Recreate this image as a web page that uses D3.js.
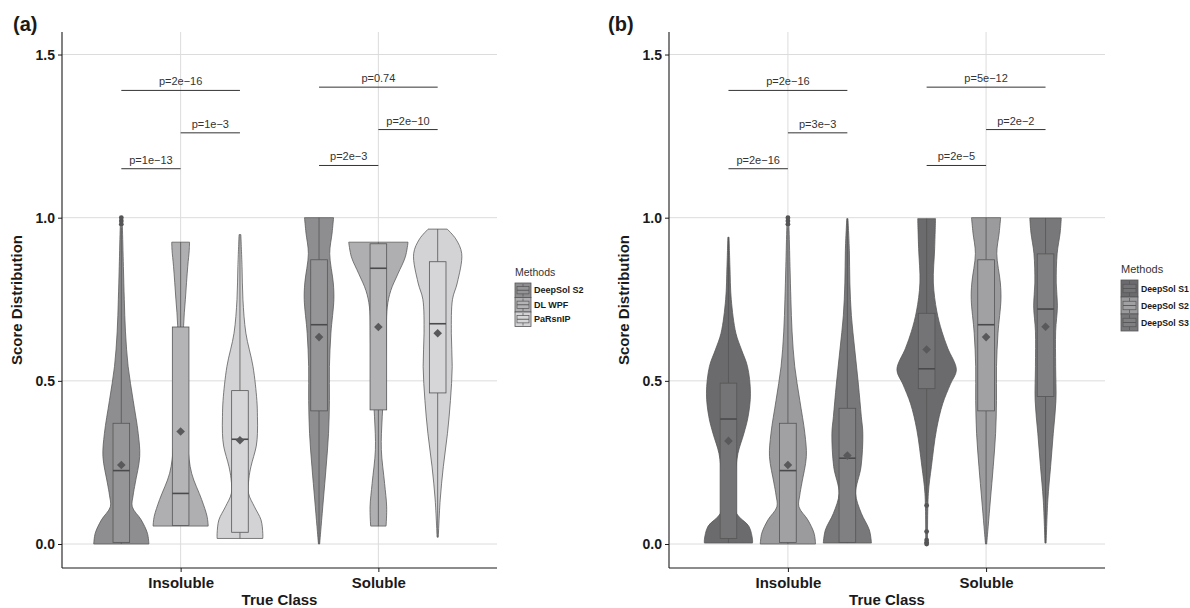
<!DOCTYPE html>
<html>
<head>
<meta charset="utf-8">
<script src="https://cdn.jsdelivr.net/npm/d3@7"></script>
<style>
  body { margin: 0; background: #fff; }
  svg { display: block; font-family: "Liberation Sans", Arial, sans-serif; }
</style>
</head>
<body>
<svg id="chart" width="1190" height="608"></svg>
<script>
// ---------- values ----------
const classes = ["Insoluble", "Soluble"];
const methodsA = ["DeepSol S2", "DL WPF", "PaRsnIP"];
const methodsB = ["DeepSol S1", "DeepSol S2", "DeepSol S3"];
const colorsA = ["#8e8e90", "#afafb1", "#d3d3d5"];
const colorsB = ["#6b6b6d", "#9b9b9d", "#78787a"];
const yTicks = [0, 0.5, 1.0, 1.5];

// violin outlines: [score, relative density]
const s2Ins  = [[0,0.93],[0.033,0.88],[0.074,0.67],[0.114,0.37],[0.15,0.40],[0.187,0.47],[0.268,0.62],[0.339,0.57],[0.44,0.40],[0.544,0.23],[0.65,0.14],[0.75,0.10],[0.85,0.07],[0.973,0.035],[1.0,0.02]];
const wpfIns = [[0.055,0.93],[0.085,0.89],[0.136,0.71],[0.217,0.37],[0.3,0.24],[0.4,0.17],[0.5,0.14],[0.6,0.12],[0.669,0.10],[0.75,0.16],[0.851,0.24],[0.9,0.29],[0.925,0.30]];
const parIns = [[0.017,0.77],[0.033,0.77],[0.074,0.71],[0.114,0.49],[0.155,0.29],[0.2,0.30],[0.237,0.37],[0.3,0.55],[0.339,0.59],[0.39,0.59],[0.44,0.57],[0.544,0.44],[0.646,0.20],[0.75,0.10],[0.85,0.07],[0.948,0.03]];
const s2Sol  = [[0,0.02],[0.054,0.07],[0.135,0.145],[0.237,0.24],[0.339,0.32],[0.44,0.35],[0.544,0.35],[0.646,0.40],[0.75,0.50],[0.8,0.48],[0.89,0.36],[0.953,0.44],[1.0,0.49]];
const wpfSol = [[0.055,0.26],[0.114,0.28],[0.186,0.21],[0.289,0.10],[0.39,0.13],[0.5,0.20],[0.6,0.26],[0.726,0.30],[0.777,0.42],[0.828,0.66],[0.88,0.91],[0.925,1.0]];
const parSol = [[0.021,0.02],[0.135,0.084],[0.237,0.19],[0.339,0.33],[0.44,0.43],[0.544,0.49],[0.646,0.46],[0.75,0.50],[0.8,0.66],[0.89,0.81],[0.935,0.61],[0.965,0.32]];
const s1Ins  = [[0.003,0.81],[0.013,0.81],[0.054,0.69],[0.094,0.27],[0.15,0.20],[0.2,0.22],[0.278,0.32],[0.339,0.52],[0.39,0.66],[0.462,0.74],[0.544,0.64],[0.595,0.44],[0.646,0.25],[0.75,0.094],[0.85,0.05],[0.94,0.02]];
const s3Ins  = [[0.003,0.81],[0.043,0.74],[0.094,0.47],[0.155,0.28],[0.237,0.46],[0.339,0.52],[0.39,0.47],[0.49,0.37],[0.595,0.25],[0.7,0.135],[0.8,0.084],[0.9,0.067],[0.997,0.02]];
const s1Sol  = [[0,0.03],[0.155,0.057],[0.237,0.16],[0.35,0.33],[0.43,0.54],[0.49,0.80],[0.534,1.0],[0.6,0.71],[0.652,0.51],[0.714,0.34],[0.8,0.226],[0.906,0.27],[0.997,0.30]];
const s3Sol  = [[0.003,0.02],[0.135,0.077],[0.237,0.17],[0.339,0.26],[0.44,0.35],[0.544,0.34],[0.652,0.34],[0.73,0.40],[0.8,0.36],[0.89,0.39],[0.953,0.49],[0.999,0.53]];

// box stats: [lower whisker, q1, median, q3, upper whisker, mean]
const s2InsBox  = [0.0, 0.005, 0.225, 0.370, 0.97, 0.242];
const wpfInsBox = [0.057, 0.057, 0.155, 0.665, 0.925, 0.345];
const parInsBox = [0.017, 0.036, 0.321, 0.470, 0.948, 0.318];
const s2SolBox  = [0.0, 0.408, 0.672, 0.871, 1.0, 0.634];
const wpfSolBox = [0.055, 0.411, 0.845, 0.920, 0.925, 0.665];
const parSolBox = [0.021, 0.463, 0.675, 0.865, 0.965, 0.646];
const s1InsBox  = [0.003, 0.017, 0.383, 0.493, 0.94, 0.316];
const s3InsBox  = [0.003, 0.005, 0.263, 0.416, 0.997, 0.271];
const s1SolBox  = [0.13, 0.476, 0.537, 0.707, 0.997, 0.596];
const s3SolBox  = [0.003, 0.452, 0.720, 0.889, 0.999, 0.666];

// outliers
const s2InsOut = [0.98, 0.99, 1.0];
const s1SolOut = [0.118, 0.038, 0.012, 0.005, 0.0];

// pairwise comparisons (method index pairs), bracket heights and labels
const pPairs = [[0, 1], [1, 2], [0, 2]];
const pHeightsIns = [1.15, 1.26, 1.39];
const pHeightsSol = [1.16, 1.27, 1.40];
const pTextA = { Insoluble: ["p=1e\u221213", "p=1e\u22123", "p=2e\u221216"], Soluble: ["p=2e\u22123", "p=2e\u221210", "p=0.74"] };
const pTextB = { Insoluble: ["p=2e\u221216", "p=3e\u22123", "p=2e\u221216"], Soluble: ["p=2e\u22125", "p=2e\u22122", "p=5e\u221212"] };

// ---------- per-panel tables ----------
const panelA = {
  label: "(a)", labelX: 13, left: 62, right: 497, methods: methodsA, colors: colorsA,
  violins: { Insoluble: [s2Ins, wpfIns, parIns], Soluble: [s2Sol, wpfSol, parSol] },
  boxes: { Insoluble: [s2InsBox, wpfInsBox, parInsBox], Soluble: [s2SolBox, wpfSolBox, parSolBox] },
  outliers: { Insoluble: [s2InsOut, [], []], Soluble: [[], [], []] },
  pText: pTextA,
  legend: { x: 515, y: 283, w: 16, h: 14.5, title: 10.5, font: 9 }
};
const panelB = {
  label: "(b)", labelX: 608, left: 669, right: 1105, methods: methodsB, colors: colorsB,
  violins: { Insoluble: [s1Ins, s2Ins, s3Ins], Soluble: [s1Sol, s2Sol, s3Sol] },
  boxes: { Insoluble: [s1InsBox, s2InsBox, s3InsBox], Soluble: [s1SolBox, s2SolBox, s3SolBox] },
  outliers: { Insoluble: [[], s2InsOut, []], Soluble: [s1SolOut, [], []] },
  pText: pTextB,
  legend: { x: 1121, y: 280, w: 17, h: 17, title: 11, font: 8.7 }
};

const svg = d3.select("#chart");
const plotTop = 32, plotBottom = 568;
const y = d3.scaleLinear().domain([-0.0735, 1.569]).range([plotBottom, plotTop]);
const ink = "#1a1a1a", outline = "#555557";

function drawPanel(p) {
  const g = svg.append("g");
  const x = d3.scalePoint().domain(classes).range([p.left, p.right]).padding(0.6);
  const dodge = d3.scaleBand().domain(p.methods).range([-0.45 * x.step(), 0.45 * x.step()]);
  const bw = dodge.bandwidth();
  const wScale = d3.scaleLinear().domain([0, 1]).range([0, bw / 2]);
  const boxHalf = bw * 0.14;
  const color = d3.scaleOrdinal().domain(p.methods).range(p.colors);

  // grid
  g.append("g").selectAll("line").data(yTicks).join("line")
    .attr("x1", p.left).attr("x2", p.right)
    .attr("y1", d => y(d)).attr("y2", d => y(d))
    .attr("stroke", "#dcdcdc").attr("stroke-width", 1);
  g.append("g").selectAll("line").data(classes).join("line")
    .attr("x1", d => x(d)).attr("x2", d => x(d))
    .attr("y1", plotTop).attr("y2", plotBottom)
    .attr("stroke", "#dcdcdc").attr("stroke-width", 1);

  classes.forEach(cls => {
    p.methods.forEach((m, i) => {
      const cx = x(cls) + dodge(m) + bw / 2;
      const c = color(m);
      const area = d3.area()
        .curve(d3.curveCatmullRom.alpha(0.5))
        .y(d => y(d[0]))
        .x0(d => cx - wScale(d[1]))
        .x1(d => cx + wScale(d[1]));
      g.append("path").datum(p.violins[cls][i])
        .attr("d", area)
        .attr("fill", c).attr("stroke", outline).attr("stroke-width", 0.75);

      const [lw, q1, med, q3, uw, mean] = p.boxes[cls][i];
      const boxFill = d3.interpolateRgb(c, "#ffffff")(0.06);
      g.append("line").attr("x1", cx).attr("x2", cx).attr("y1", y(q3)).attr("y2", y(uw))
        .attr("stroke", outline).attr("stroke-width", 0.8);
      g.append("line").attr("x1", cx).attr("x2", cx).attr("y1", y(q1)).attr("y2", y(lw))
        .attr("stroke", outline).attr("stroke-width", 0.8);
      g.append("rect")
        .attr("x", cx - boxHalf).attr("width", boxHalf * 2)
        .attr("y", y(q3)).attr("height", y(q1) - y(q3))
        .attr("fill", boxFill).attr("stroke", outline).attr("stroke-width", 0.8);
      g.append("line").attr("x1", cx - boxHalf).attr("x2", cx + boxHalf)
        .attr("y1", y(med)).attr("y2", y(med))
        .attr("stroke", "#4a4a4c").attr("stroke-width", 1.6);

      g.append("g").selectAll("circle").data(p.outliers[cls][i]).join("circle")
        .attr("cx", cx).attr("cy", d => y(d)).attr("r", 2.4)
        .attr("fill", "#555557");

      const dm = 4.3;
      g.append("path")
        .attr("d", `M${cx},${y(mean) - dm}L${cx + dm},${y(mean)}L${cx},${y(mean) + dm}L${cx - dm},${y(mean)}Z`)
        .attr("fill", "#59595b");
    });

    // significance brackets
    const heights = cls === "Insoluble" ? pHeightsIns : pHeightsSol;
    pPairs.forEach(([a, b], k) => {
      const xa = x(cls) + dodge(p.methods[a]) + bw / 2;
      const xb = x(cls) + dodge(p.methods[b]) + bw / 2;
      g.append("line").attr("x1", xa).attr("x2", xb)
        .attr("y1", y(heights[k])).attr("y2", y(heights[k]))
        .attr("stroke", "#333").attr("stroke-width", 1);
      g.append("text").attr("x", (xa + xb) / 2).attr("y", y(heights[k]) - 5)
        .attr("text-anchor", "middle").attr("font-size", 11).attr("fill", "#333")
        .text(p.pText[cls][k]);
    });
  });

  // axes
  const yAxis = g.append("g").attr("transform", `translate(${p.left},0)`)
    .call(d3.axisLeft(y).tickValues(yTicks).tickFormat(d3.format(".1f")).tickSize(4).tickPadding(3));
  yAxis.select(".domain").attr("d", `M0,${plotTop}V${plotBottom}`).attr("stroke", ink).attr("stroke-width", 1.1);
  yAxis.selectAll(".tick line").attr("stroke", ink);
  yAxis.selectAll(".tick text").attr("font-size", 14).attr("font-weight", "bold").attr("fill", ink)
    .attr("font-family", "Liberation Sans, Arial, sans-serif");

  const xAxis = g.append("g").attr("transform", `translate(0,${plotBottom})`)
    .call(d3.axisBottom(x).tickSize(4).tickPadding(5));
  xAxis.select(".domain").attr("d", `M${p.left},0H${p.right}`).attr("stroke", ink).attr("stroke-width", 1.1);
  xAxis.selectAll(".tick line").attr("stroke", ink);
  xAxis.selectAll(".tick text").attr("font-size", 15).attr("font-weight", "bold").attr("fill", ink)
    .attr("font-family", "Liberation Sans, Arial, sans-serif");

  g.append("text").attr("x", (p.left + p.right) / 2).attr("y", 605)
    .attr("text-anchor", "middle").attr("font-size", 15).attr("font-weight", "bold").attr("fill", ink)
    .text("True Class");
  g.append("text").attr("transform", `translate(${p.left - 40},${(plotTop + plotBottom) / 2}) rotate(-90)`)
    .attr("text-anchor", "middle").attr("font-size", 15).attr("font-weight", "bold").attr("fill", ink)
    .text("Score Distribution");
  g.append("text").attr("x", p.labelX).attr("y", 31)
    .attr("font-size", 20).attr("font-weight", "bold").attr("fill", ink)
    .text(p.label);

  // legend
  const L = p.legend;
  const lg = g.append("g").attr("transform", `translate(${L.x},${L.y})`);
  lg.append("text").attr("x", 0).attr("y", -7).attr("font-size", L.title).attr("fill", "#333")
    .text("Methods");
  p.methods.forEach((m, i) => {
    const k = lg.append("g").attr("transform", `translate(0,${i * L.h})`);
    k.append("rect").attr("width", L.w).attr("height", L.h)
      .attr("fill", color(m)).attr("stroke", outline).attr("stroke-width", 0.8);
    k.append("rect").attr("x", 2).attr("y", L.h * 0.25).attr("width", L.w - 4).attr("height", L.h * 0.5)
      .attr("fill", d3.interpolateRgb(color(m), "#ffffff")(0.06)).attr("stroke", outline).attr("stroke-width", 0.7);
    k.append("line").attr("x1", 2).attr("x2", L.w - 2).attr("y1", L.h * 0.5).attr("y2", L.h * 0.5)
      .attr("stroke", outline).attr("stroke-width", 0.9);
    k.append("line").attr("x1", L.w / 2).attr("x2", L.w / 2).attr("y1", 1).attr("y2", L.h * 0.25)
      .attr("stroke", outline).attr("stroke-width", 0.7);
    k.append("line").attr("x1", L.w / 2).attr("x2", L.w / 2).attr("y1", L.h * 0.75).attr("y2", L.h - 1)
      .attr("stroke", outline).attr("stroke-width", 0.7);
    k.append("text").attr("x", L.w + 3).attr("y", L.h / 2 + L.font * 0.36)
      .attr("font-size", L.font).attr("font-weight", "bold").attr("fill", ink)
      .text(m);
  });
}

drawPanel(panelA);
drawPanel(panelB);
</script>
</body>
</html>
